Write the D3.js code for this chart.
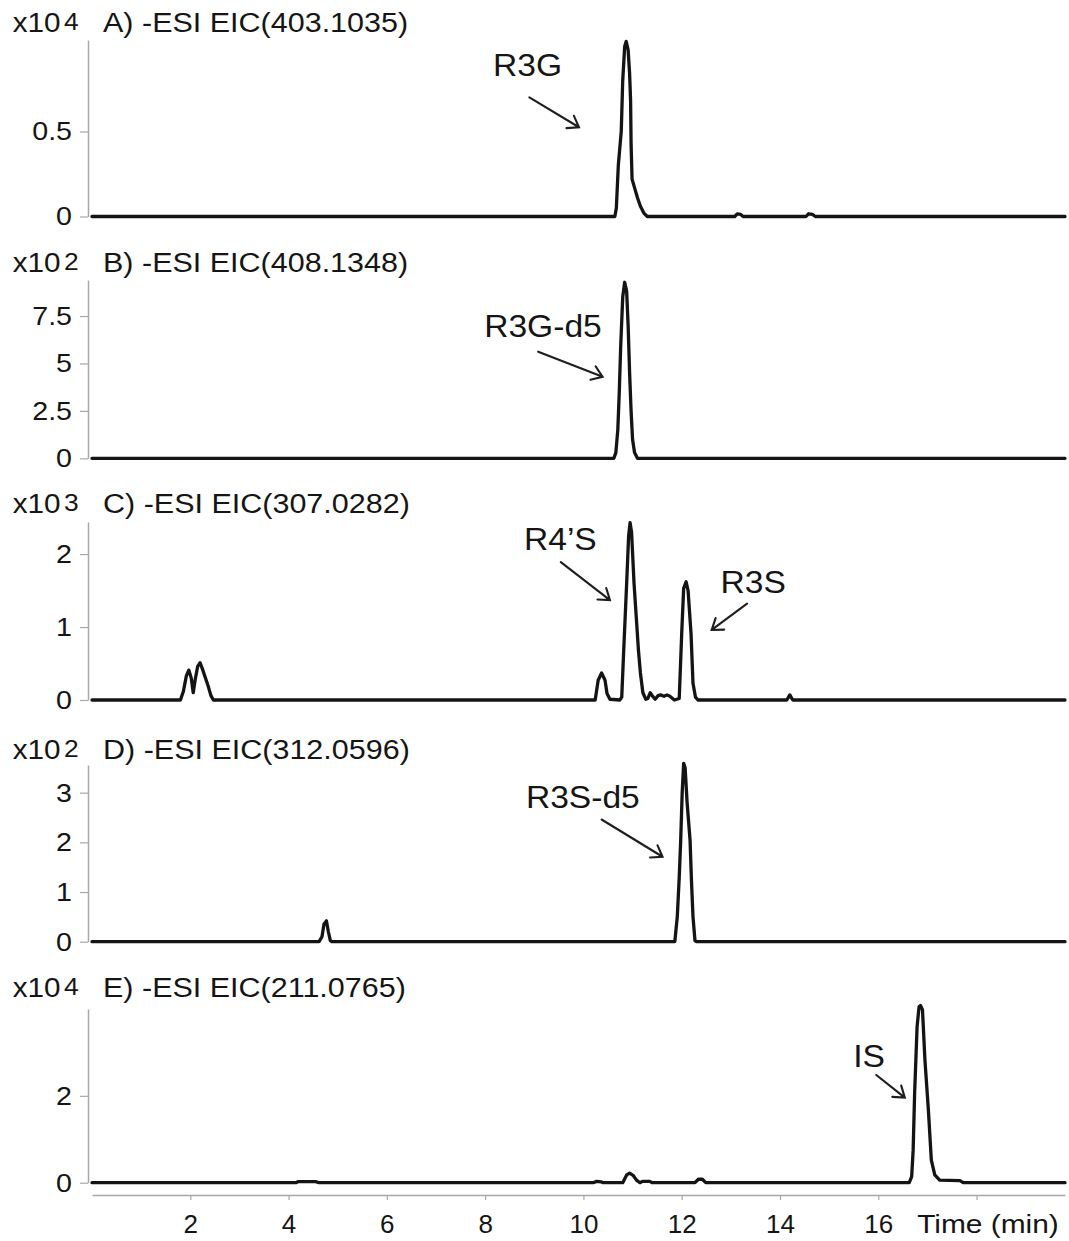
<!DOCTYPE html>
<html><head><meta charset="utf-8">
<script src="https://cdn.jsdelivr.net/npm/d3@7"></script>
<style>
body{margin:0;background:#fff}
text{font-family:"Liberation Sans",Arial,Helvetica,sans-serif;fill:#151515}
</style>
</head><body>
<svg id="chart" width="1069" height="1241"></svg>
<script>
// ---------------- data ----------------
const timeTicks = [2,4,6,8,10,12,14,16,18];
const timeTickLabels = ["2","4","6","8","10","12","14","16",""];
const timeMax = 19.8;

const panelLetters = ["A","B","C","D","E"];
const panelMz = ["403.1035","408.1348","307.0282","312.0596","211.0765"];
const panelExponents = ["4","2","3","2","4"];
const panelYMax = [1.038, 9.40, 2.44, 3.557, 4.0];

const yTicksA = [0, 0.5];
const yTicksB = [0, 2.5, 5, 7.5];
const yTicksC = [0, 1, 2];
const yTicksD = [0, 1, 2, 3];
const yTicksE = [0, 2];

// [time (min), intensity (in units of the panel's x10^n)]
const traceA = [[0,0],[10.64,0],[10.67,0.05],[10.71,0.3],[10.77,0.5],[10.8,0.8],[10.84,1.0],[10.87,1.03],[10.91,0.98],[10.94,0.84],[10.96,0.68],[10.97,0.43],[10.99,0.22],[11.04,0.17],[11.1,0.11],[11.16,0.06],[11.23,0.02],[11.3,0],[13.08,0],[13.13,0.015],[13.2,0.012],[13.25,0],[14.53,0],[14.58,0.016],[14.66,0.012],[14.72,0],[19.8,0]];
const traceB = [[0,0],[10.62,0],[10.66,0.3],[10.7,1.5],[10.73,3.5],[10.76,6.0],[10.8,8.5],[10.84,9.28],[10.88,8.8],[10.91,7.0],[10.94,4.5],[10.97,2.5],[11.0,1.0],[11.04,0.3],[11.1,0],[19.8,0]];
const traceC = [[0,0],[1.8,0],[1.86,0.12],[1.92,0.33],[1.97,0.41],[2.02,0.3],[2.06,0.1],[2.1,0.28],[2.15,0.46],[2.2,0.51],[2.25,0.42],[2.3,0.32],[2.36,0.2],[2.42,0.06],[2.47,0],
  [10.24,0],[10.3,0.27],[10.37,0.37],[10.44,0.27],[10.48,0.09],[10.54,0.01],[10.74,0],[10.78,0.04],[10.82,0.68],[10.88,1.6],[10.92,2.25],[10.95,2.43],[10.98,2.3],[11.03,1.6],[11.12,0.68],[11.16,0.37],[11.21,0.1],[11.27,0.01],[11.31,0.02],[11.36,0.1],[11.41,0.05],[11.46,0.01],[11.52,0.06],[11.57,0.07],[11.64,0.05],[11.7,0.07],[11.76,0.05],[11.85,0],
  [11.95,0.02],[12.0,0.91],[12.04,1.53],[12.09,1.62],[12.13,1.5],[12.19,0.91],[12.23,0.23],[12.28,0.04],[12.33,0],[14.14,0],[14.2,0.07],[14.26,0],[19.8,0]];
const traceD = [[0,0],[4.62,0],[4.68,0.1],[4.72,0.35],[4.77,0.42],[4.81,0.2],[4.85,0.02],[4.88,0],[11.86,0],[11.91,0.5],[11.95,1.3],[11.98,2.05],[12.01,3.0],[12.04,3.59],[12.07,3.5],[12.11,2.8],[12.17,2.05],[12.2,1.2],[12.23,0.5],[12.27,0.02],[12.3,0],[19.8,0]];
const traceE = [[0,0],[4.15,0],[4.2,0.025],[4.55,0.025],[4.62,0],[10.2,0],[10.27,0.03],[10.36,0.02],[10.4,0],[10.8,0],[10.88,0.18],[10.94,0.22],[11.01,0.17],[11.08,0.06],[11.15,0],[11.2,0.03],[11.35,0.03],[11.4,0],[12.27,0],[12.34,0.08],[12.42,0.08],[12.49,0],[16.63,0],[16.68,0.14],[16.71,0.75],[16.74,2.06],[16.79,3.59],[16.83,4.05],[16.86,4.08],[16.9,3.98],[16.95,2.82],[17.02,1.67],[17.08,0.52],[17.15,0.18],[17.25,0.06],[17.66,0.05],[17.73,0],[19.8,0]];

const traces = [traceA, traceB, traceC, traceD, traceE];
const yTicks = [yTicksA, yTicksB, yTicksC, yTicksD, yTicksE];

// annotation labels, anchored in data units (time, intensity)
const annotations = [
  {panel:0, label:"R3G",    t:8.16,  v:0.826, from:[8.90,0.701], to:[9.91,0.525]},
  {panel:1, label:"R3G-d5", t:7.98,  v:6.39,  from:[9.08,5.62],  to:[10.39,4.30]},
  {panel:2, label:"R4\u2019S", t:8.79, v:2.05, from:[9.54,1.89], to:[10.54,1.37]},
  {panel:2, label:"R3S",    t:12.79, v:1.47,  from:[13.33,1.32], to:[12.61,0.96]},
  {panel:3, label:"R3S-d5", t:8.83,  v:2.69,  from:[10.37,2.46], to:[11.61,1.71]},
  {panel:4, label:"IS",     t:15.49, v:2.67,  from:[15.96,2.48], to:[16.54,1.96]}
];

// ---------------- layout ----------------
const panelTop  = [40, 280, 522, 765, 1009];
const panelZero = [216.5, 458.3, 700, 941.7, 1182.7];
const titleY    = [31.7, 271.7, 513.3, 759, 996.7];
const axisX = 88, plotLeft = 92, plotRight = 1065, xAxisY = 1195;
const axisColor = "#a8a8a8", inkColor = "#151515";

const svg = d3.select("#chart");
const x = d3.scaleLinear().domain([0, timeMax]).range([plotLeft, plotRight]);

function stretchedText(g, px, py, str, size, sx, anchor) {
  return g.append("text")
    .attr("transform", `translate(${px},${py}) scale(${sx},1)`)
    .attr("text-anchor", anchor || "start")
    .style("font-size", size + "px")
    .text(str);
}

const line = d3.line().curve(d3.curveLinear);

panelLetters.forEach((letter, i) => {
  const y = d3.scaleLinear().domain([0, panelYMax[i]]).range([panelZero[i], panelTop[i]]);
  const g = svg.append("g");

  // y axis
  const ax = g.append("g").attr("transform", `translate(${axisX},0)`)
    .call(d3.axisLeft(y).tickValues(yTicks[i]).tickSize(8).tickSizeOuter(0).tickPadding(8)
      .tickFormat(d => String(d)));
  ax.select(".domain").attr("stroke", axisColor).attr("stroke-width", 1.5);
  ax.selectAll(".tick line").attr("stroke", axisColor).attr("stroke-width", 1.2);
  ax.selectAll(".tick text")
    .attr("fill", inkColor).attr("font-family", null).attr("font-size", null)
    .style("font-size", "26.5px")
    .attr("x", -16 / 1.08)
    .attr("transform", "scale(1.08,1)");

  // header: x10^n and title
  stretchedText(g, 12.7, titleY[i], "x10", 27, 1.1, "start");
  stretchedText(g, 64, titleY[i] - 2, panelExponents[i], 24, 1.1, "start");
  stretchedText(g, 103, titleY[i], `${letter}) -ESI EIC(${panelMz[i]})`, 27, 1.13, "start");

  // trace
  g.append("path")
    .attr("d", line(traces[i].map(p => [x(p[0]), y(p[1])])))
    .attr("fill", "none")
    .attr("stroke", "#141414")
    .attr("stroke-width", 3.3)
    .attr("stroke-linejoin", "round")
    .attr("stroke-linecap", "round");

  // annotations
  annotations.filter(a => a.panel === i).forEach(a => {
    stretchedText(g, x(a.t), y(a.v), a.label, 32, 1.05, "start");
    const x1 = x(a.from[0]), y1 = y(a.from[1]), x2 = x(a.to[0]), y2 = y(a.to[1]);
    const ang = Math.atan2(y2 - y1, x2 - x1);
    const L = 12.5, spread = 35 * Math.PI / 180;
    const w1 = [x2 - L * Math.cos(ang - spread), y2 - L * Math.sin(ang - spread)];
    const w2 = [x2 - L * Math.cos(ang + spread), y2 - L * Math.sin(ang + spread)];
    g.append("path")
      .attr("d", `M${x1},${y1}L${x2},${y2}M${w1[0]},${w1[1]}L${x2},${y2}L${w2[0]},${w2[1]}`)
      .attr("fill", "none").attr("stroke", "#1e1e1e").attr("stroke-width", 2.1)
      .attr("stroke-linecap", "round").attr("stroke-linejoin", "miter");
  });
});

// x axis
const xa = svg.append("g").attr("transform", `translate(0,${xAxisY})`)
  .call(d3.axisBottom(x).tickValues(timeTicks).tickSize(5).tickSizeOuter(0)
    .tickFormat((d, k) => timeTickLabels[k]));
xa.select(".domain").attr("stroke", axisColor).attr("stroke-width", 1.5);
xa.selectAll(".tick line").attr("stroke", axisColor).attr("stroke-width", 1.2);
xa.selectAll(".tick text")
  .attr("fill", inkColor).attr("font-family", null).attr("font-size", null)
  .style("font-size", "26px")
  .attr("y", 19.5);
stretchedText(svg, 988, 1233, "Time (min)", 26, 1.15, "middle");
</script>
</body></html>
